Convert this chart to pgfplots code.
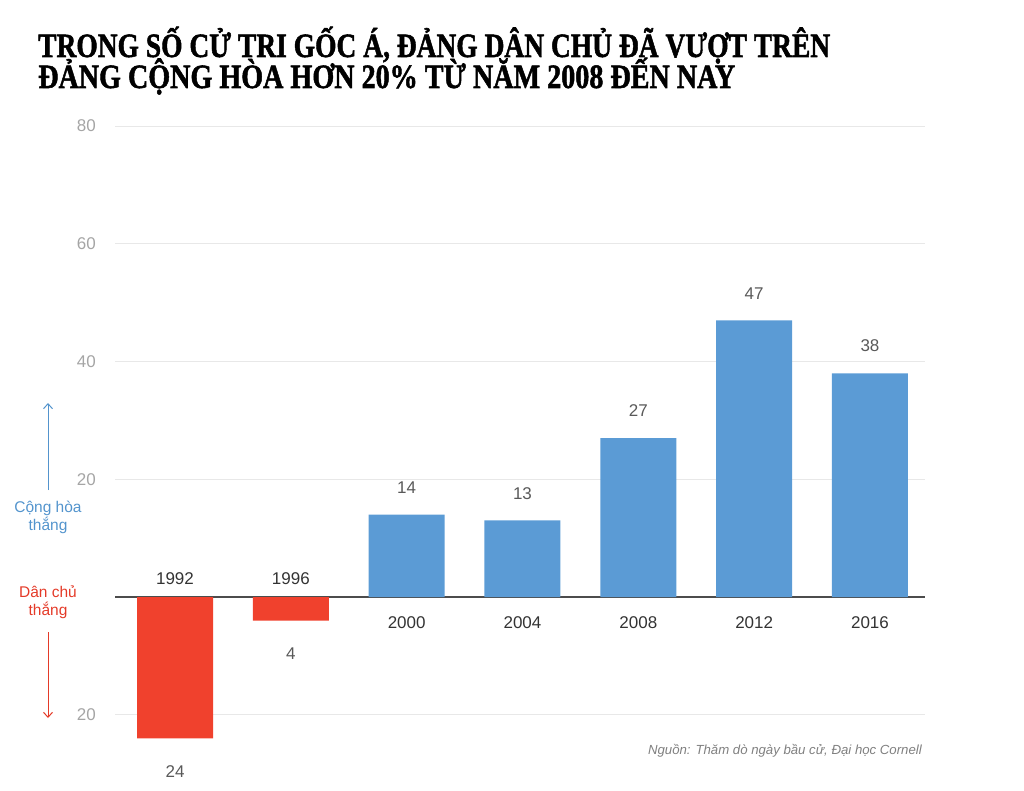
\documentclass[border=0pt]{standalone}
\usepackage{pgfplots}
\pgfplotsset{compat=1.18}
\usetikzlibrary{arrows.meta}
\usepackage{graphicx}
\usepackage{fontspec}
\setmainfont{Liberation Sans}
\newfontfamily\titlefont{Liberation Serif}[BoldFeatures={FakeBold=1.6}]
\definecolor{barblue}{RGB}{91,155,213}
\definecolor{barred}{RGB}{240,65,45}
\definecolor{txtblue}{RGB}{83,148,205}
\definecolor{txtred}{RGB}{228,58,40}
\definecolor{ticktxt}{RGB}{165,165,165}
\tikzset{yr/.style={font=\fontsize{17}{17}\selectfont, text=black!80}}
\begin{document}
\begin{tikzpicture}
\path[use as bounding box] (0,0) rectangle (1024pt,-791pt);

% title
\node[anchor=base west, inner sep=0] at (38pt,-57pt)
  {\resizebox{792pt}{\height}{\titlefont\bfseries\fontsize{34}{34}\selectfont TRONG SỐ CỬ TRI GỐC Á, ĐẢNG DÂN CHỦ ĐÃ VƯỢT TRÊN}};
\node[anchor=base west, inner sep=0] at (38pt,-88pt)
  {\resizebox{697pt}{\height}{\titlefont\bfseries\fontsize{34}{34}\selectfont ĐẢNG CỘNG HÒA HƠN 20\% TỪ NĂM 2008 ĐẾN NAY}};

\begin{axis}[
    at={(115pt,-761.85pt)}, anchor=south west,
    scale only axis, width=810pt, height=635.85pt,
    xmin=-0.518, xmax=6.475, ymin=-28, ymax=80,
    clip=false,
    axis line style={draw=none},
    major tick length=0pt,
    xtick=\empty,
    ytick={-20,20,40,60,80},
    yticklabels={20,20,40,60,80},
    extra y ticks={0},
    extra y tick labels={},
    extra y tick style={grid style={line width=1.2pt, black!70}},
    ymajorgrids,
    grid style={line width=1pt, black!9},
    yticklabel style={font=\fontsize{17}{17}\selectfont, text=ticktxt,
      anchor=east, inner sep=0pt, xshift=-19pt},
    bar width=76pt,
]
\addplot[ybar, bar shift=0pt, fill=barred, draw=none,
  point meta=explicit symbolic, nodes near coords,
  every node near coord/.style={anchor=north, inner sep=0pt, yshift=-27pt,
    font=\fontsize{17}{17}\selectfont, text=black!65}]
  coordinates {(0,-24) [24] (1,-4) [4]};
\addplot[ybar, bar shift=0pt, fill=barblue, draw=none,
  point meta=explicit symbolic, nodes near coords,
  every node near coord/.style={anchor=south, inner sep=0pt, yshift=21pt,
    font=\fontsize{17}{17}\selectfont, text=black!65}]
  coordinates {(2,14) [14] (3,13) [13] (4,27) [27] (5,47) [47] (6,38) [38]};

% year labels
\node[yr, yshift=18pt] at (axis cs:0,0) {1992};
\node[yr, yshift=18pt] at (axis cs:1,0) {1996};
\node[yr, yshift=-26pt] at (axis cs:2,0) {2000};
\node[yr, yshift=-26pt] at (axis cs:3,0) {2004};
\node[yr, yshift=-26pt] at (axis cs:4,0) {2008};
\node[yr, yshift=-26pt] at (axis cs:5,0) {2012};
\node[yr, yshift=-26pt] at (axis cs:6,0) {2016};
\end{axis}

% side annotations
\draw[-{Straight Barb[length=5pt,width=9pt]}, txtblue, line width=1pt] (48pt,-490pt) -- (48pt,-403pt);
\node[align=center, text=txtblue, font=\fontsize{15.5}{18}\selectfont] at (48pt,-517pt) {Cộng hòa\\thắng};
\node[align=center, text=txtred, font=\fontsize{15.5}{18}\selectfont] at (48pt,-602pt) {Dân chủ\\thắng};
\draw[-{Straight Barb[length=5pt,width=9pt]}, txtred, line width=1pt] (48pt,-632pt) -- (48pt,-718pt);

% source
\node[anchor=east, inner sep=0, text=black!50, font=\itshape\fontsize{13.2}{14}\selectfont] at (922pt,-751pt)
  {Nguồn: Thăm dò ngày bầu cử, Đại học Cornell};
\end{tikzpicture}
\end{document}
